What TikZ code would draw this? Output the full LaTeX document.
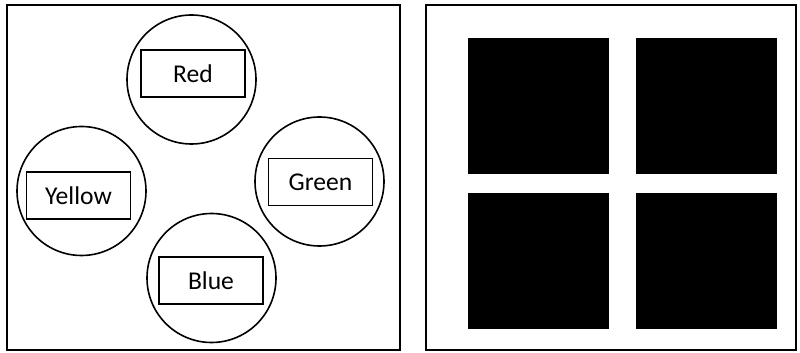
\documentclass[tikz,border=0pt]{standalone}
\usepackage{fontspec}
\setmainfont{Carlito}
\begin{document}
\begin{tikzpicture}[
  x=0.5pt, y=-0.5pt,
  every node/.style={font=\fontsize{12.8}{15}\selectfont},
  frame/.style={draw, line width=1pt},
  colour disc/.style={draw, circle, line width=0.8pt, minimum size=64.5pt, inner sep=0pt},
  name box/.style={draw, rectangle, line width=0.7pt, minimum width=52pt, minimum height=23.5pt, inner sep=0pt},
  tile/.style={fill=black}
]
\useasboundingbox (0,0) rectangle (800,353);
% left panel
\draw[frame] (7,5) rectangle (400,350);
\node[colour disc] (red disc) at (191.5,79.5) {};
\node[colour disc] (yellow disc) at (81.5,191) {};
\node[colour disc] (green disc) at (319.5,181.5) {};
\node[colour disc] (blue disc) at (211.5,278) {};
\node[name box] (red) at (193,73.5) {Red};
\node[name box] (yellow) at (78.5,195.5) {Yellow};
\node[name box] (green) at (320.5,182) {Green};
\node[name box] (blue) at (211,280.5) {Blue};
% right panel
\draw[frame] (426,5) rectangle (796,350);
\foreach \x in {468,636}
  \foreach \y in {38,193}
    \fill[tile] (\x,\y) rectangle ++(141,136);
\end{tikzpicture}
\end{document}
